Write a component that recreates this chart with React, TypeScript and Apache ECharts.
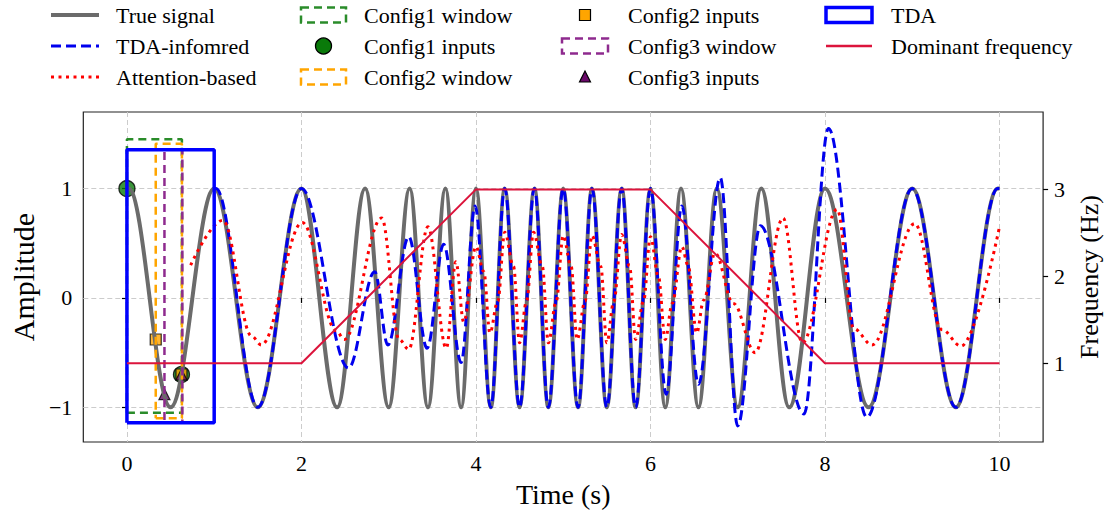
import React, { useEffect, useRef } from "react";
import * as echarts from "echarts";

// ---------- tick values ----------
const timeTicks = [0, 2, 4, 6, 8, 10];
const amplitudeTicks = [-1, 0, 1];
const frequencyTicks = [1, 2, 3];

// ---------- true signal (extrema) ----------
const trueSignalT = [0, 0.02, 0.5, 1, 1.5, 2, 2.41, 2.73, 3.0, 3.24, 3.45, 3.65, 3.83, 4.0, 4.17, 4.33, 4.5, 4.67, 4.83, 5.0, 5.17, 5.33, 5.5, 5.67, 5.83, 6.0, 6.17, 6.35, 6.55, 6.76, 7.0, 7.27, 7.59, 8.0, 8.5, 9.0, 9.5, 9.98, 10];
const trueSignalY = [1, 1, -1, 1, -1, 1, -1, 1, -1, 1, -1, 1, -1, 1, -1, 1, -1, 1, -1, 1, -1, 1, -1, 1, -1, 1, -1, 1, -1, 1, -1, 1, -1, 1, -1, 1, -1, 1, 1];

// ---------- TDA-informed prediction ----------
const tdaT = [1.0, 1.02, 1.5, 2.0, 2.54, 2.84, 2.99, 3.23, 3.44, 3.63, 3.83, 3.99, 4.17, 4.33, 4.5, 4.67, 4.83, 5.0, 5.17, 5.33, 5.5, 5.67, 5.83, 6.0, 6.18, 6.36, 6.55, 6.8, 7.0, 7.26, 7.76, 8.04, 8.48, 9.0, 9.5, 9.98, 10];
const tdaY = [1, 1, -1, 1, -0.64, 0.24, -0.43, 0.56, -0.46, 0.49, -0.59, 0.84, -1, 1, -1, 1, -1, 1, -1, 1, -1, 1, -1, 1, -0.88, 0.84, -0.79, 1.1, -1.17, 0.66, -1.06, 1.55, -1.09, 1, -1, 1, 1];

// ---------- Attention-based prediction ----------
const attT = [0.73, 1.1, 1.43, 1.54, 2.01, 2.4, 2.49, 2.92, 3.12, 3.23, 3.45, 3.66, 3.77, 3.86, 4.0, 4.09, 4.16, 4.25, 4.33, 4.43, 4.5, 4.58, 4.66, 4.76, 4.83, 4.92, 5.0, 5.09, 5.16, 5.25, 5.33, 5.43, 5.5, 5.58, 5.67, 5.76, 5.83, 5.92, 6.0, 6.09, 6.17, 6.25, 6.36, 6.43, 6.53, 6.61, 6.74, 6.95, 7.2, 7.52, 7.74, 8.14, 8.33, 8.54, 9.03, 9.34, 9.56, 10];
const attY = [0.3, 0.71, -0.35, -0.43, 0.69, -0.3, -0.38, 0.73, -0.38, -0.47, 0.65, -0.46, 0.33, -0.22, 0.47, 0.24, -0.32, -0.03, 0.6, 0.29, -0.41, -0.03, 0.6, 0.29, -0.41, -0.03, 0.57, 0.29, -0.38, -0.03, 0.57, 0.29, -0.41, -0.03, 0.58, 0.29, -0.38, -0.03, 0.56, 0.2, -0.38, -0.05, 0.47, 0.3, -0.32, -0.02, 0.41, -0.05, -0.5, 0.73, -0.41, 0.81, -0.28, -0.43, 0.68, -0.29, -0.44, 0.65];

// ---------- dominant frequency ----------
const freqT = [0, 2, 4, 6, 8, 10];
const freqHz = [1, 1, 3, 3, 1, 1];

// ---------- windows: [start time, end time, low amplitude, high amplitude] ----------
const config1Window = [0, 0.63, -1.05, 1.45];
const config2Window = [0.33, 0.63, -1.1, 1.41];
const config3Window = [0.43, 0.635, -1.14, 1.36];
const tdaWindow = [0, 1.0, -1.14, 1.355];

// ---------- window inputs ----------
const config1InputsT = [0, 0.625];
const config1InputsY = [1, -0.7];
const config2InputsT = [0.33, 0.625];
const config2InputsY = [-0.38, -0.7];
const config3InputsT = [0.43, 0.625];
const config3InputsY = [-0.88, -0.7];

const FONT = '"Liberation Serif", "Times New Roman", serif';
const GRAY = "#6b6b6b";
const BLUE = "#0000ee";
const RED = "#ff0000";
const GREEN = "#2a8c2a";
const ORANGE = "#ffa500";
const PURPLE = "#8e2a8e";
const CRIMSON = "#dc143c";

const pairs = (t: number[], y: number[]) => t.map((v, i) => [v, y[i]]);
const rectPath = (w: number[]) => {
  const [t0, t1, lo, hi] = w;
  return [[t0, lo], [t1, lo], [t1, hi], [t0, hi], [t0, lo]];
};
const minus = (v: number) => (v < 0 ? "\u2212" + Math.abs(v) : String(v));

const windowSeries = (name: string, w: number[], color: string, width: number, dash: any) => ({
  name,
  type: "line",
  data: rectPath(w),
  showSymbol: false,
  symbol: "none",
  silent: true,
  lineStyle: { color, width, type: dash },
});

// ---------- legend (graphic) ----------
const LF = `22px ${FONT}`;
const rows = [15, 46, 77];
const legendText = (text: string, x: number, y: number) => ({
  type: "text",
  x,
  y,
  style: { text, fill: "#000", font: LF, textAlign: "left", textVerticalAlign: "middle", align: "left", verticalAlign: "middle" },
});
const c1 = { x1: 51, x2: 99, tx: 116 };
const c2 = { x1: 301, x2: 346, tx: 364 };
const c3 = { x1: 562, x2: 608, tx: 628 };
const c4 = { x1: 826, x2: 872, tx: 891 };
const hRect = (c: any, y: number, stroke: string, lw: number, dash: any) => ({
  type: "rect",
  shape: { x: c.x1, y: y - 7.5, width: c.x2 - c.x1, height: 15 },
  style: { fill: "none", stroke, lineWidth: lw, lineDash: dash },
});

const legendElements: any[] = [
  { type: "line", shape: { x1: c1.x1, y1: rows[0], x2: c1.x2, y2: rows[0] }, style: { stroke: GRAY, lineWidth: 4 } },
  legendText("True signal", c1.tx, rows[0]),
  { type: "line", shape: { x1: c1.x1, y1: rows[1], x2: c1.x2, y2: rows[1] }, style: { stroke: BLUE, lineWidth: 3, lineDash: [10, 5] } },
  legendText("TDA-infomred", c1.tx, rows[1]),
  { type: "line", shape: { x1: c1.x1, y1: rows[2], x2: c1.x2, y2: rows[2] }, style: { stroke: RED, lineWidth: 3, lineDash: [3, 4.5] } },
  legendText("Attention-based", c1.tx, rows[2]),

  hRect(c2, rows[0], GREEN, 2.5, [8, 5]),
  legendText("Config1 window", c2.tx, rows[0]),
  { type: "circle", shape: { cx: (c2.x1 + c2.x2) / 2, cy: rows[1], r: 8 }, style: { fill: "#0a7a0a", stroke: "#000", lineWidth: 1.3 } },
  legendText("Config1 inputs", c2.tx, rows[1]),
  hRect(c2, rows[2], ORANGE, 2.5, [8, 5]),
  legendText("Config2 window", c2.tx, rows[2]),

  { type: "rect", shape: { x: (c3.x1 + c3.x2) / 2 - 5.5, y: rows[0] - 5.5, width: 11, height: 11 }, style: { fill: ORANGE, stroke: "#000", lineWidth: 1.2 } },
  legendText("Config2 inputs", c3.tx, rows[0]),
  hRect(c3, rows[1], PURPLE, 2.5, [8, 5]),
  legendText("Config3 window", c3.tx, rows[1]),
  {
    type: "polygon",
    shape: { points: [[(c3.x1 + c3.x2) / 2, rows[2] - 6], [(c3.x1 + c3.x2) / 2 - 5.5, rows[2] + 5], [(c3.x1 + c3.x2) / 2 + 5.5, rows[2] + 5]] },
    style: { fill: "#6a0a6a", stroke: "#000", lineWidth: 1.2 },
  },
  legendText("Config3 inputs", c3.tx, rows[2]),

  hRect(c4, rows[0], "#0000ff", 3.5, null),
  legendText("TDA", c4.tx, rows[0]),
  { type: "line", shape: { x1: c4.x1, y1: rows[1], x2: c4.x2, y2: rows[1] }, style: { stroke: CRIMSON, lineWidth: 2.5 } },
  legendText("Dominant frequency", c4.tx, rows[1]),
];

const axisLabelBase = { color: "#000", fontFamily: "Liberation Serif", fontSize: 22 };
const gridLine = { show: true, lineStyle: { color: "#cccccc", width: 1, type: [5, 3] } };
const tickStyle = { show: true, length: 5, lineStyle: { color: "#000", width: 1.2 } };

const option: any = {
  animation: false,
  backgroundColor: "#ffffff",
  textStyle: { fontFamily: "Liberation Serif" },
  grid: { left: 83, right: 62, top: 112, bottom: 73, show: true, borderColor: "#222", borderWidth: 1.2, backgroundColor: "transparent" },
  xAxis: {
    type: "value",
    min: -0.5,
    max: 10.5,
    axisLine: { show: false },
    axisTick: { ...tickStyle, customValues: timeTicks },
    axisLabel: { ...axisLabelBase, margin: 10, customValues: timeTicks, formatter: (v: number) => minus(v) },
    splitLine: gridLine,
    name: "Time (s)",
    nameLocation: "middle",
    nameGap: 38,
    nameTextStyle: { color: "#000", fontFamily: FONT, fontSize: 28 },
  },
  yAxis: [
    {
      type: "value",
      min: -1.317,
      max: 1.7,
      axisLine: { show: false },
      axisTick: { ...tickStyle, customValues: amplitudeTicks },
      axisLabel: { ...axisLabelBase, margin: 11, customValues: amplitudeTicks, formatter: (v: number) => minus(v) },
      splitLine: gridLine,
      name: "Amplitude",
      nameLocation: "middle",
      nameGap: 43,
      nameRotate: 90,
      nameTextStyle: { color: "#000", fontFamily: FONT, fontSize: 30 },
    },
    {
      type: "value",
      position: "right",
      min: 0.095,
      max: 3.89,
      axisLine: { show: false },
      axisTick: { ...tickStyle, customValues: frequencyTicks },
      axisLabel: { ...axisLabelBase, margin: 11, customValues: frequencyTicks, formatter: (v: number) => minus(v) },
      splitLine: { show: false },
      name: "Frequency (Hz)",
      nameLocation: "middle",
      nameGap: 30,
      nameRotate: 90,
      nameTextStyle: { color: "#000", fontFamily: FONT, fontSize: 26 },
    },
  ],
  graphic: { elements: legendElements },
  series: [
    {
      name: "True signal",
      type: "line",
      data: pairs(trueSignalT, trueSignalY),
      smooth: 0.36,
      smoothMonotone: "x",
      showSymbol: false,
      symbol: "none",
      lineStyle: { color: GRAY, width: 4 },
    },
    {
      name: "TDA-infomred",
      type: "line",
      data: pairs(tdaT, tdaY),
      smooth: 0.36,
      smoothMonotone: "x",
      showSymbol: false,
      symbol: "none",
      lineStyle: { color: BLUE, width: 3, type: [10, 5] },
    },
    {
      name: "Attention-based",
      type: "line",
      data: pairs(attT, attY),
      smooth: 0.36,
      smoothMonotone: "x",
      showSymbol: false,
      symbol: "none",
      lineStyle: { color: RED, width: 3, type: [3, 4.5] },
    },
    windowSeries("Config1 window", config1Window, GREEN, 2.5, [8, 5]),
    windowSeries("Config2 window", config2Window, ORANGE, 2.5, [8, 5]),
    windowSeries("Config3 window", config3Window, PURPLE, 2.5, [8, 5]),
    windowSeries("TDA", tdaWindow, "#0000ff", 3.5, "solid"),
    {
      name: "Dominant frequency",
      type: "line",
      yAxisIndex: 1,
      data: pairs(freqT, freqHz),
      showSymbol: false,
      symbol: "none",
      lineStyle: { color: CRIMSON, width: 2 },
    },
    {
      name: "Config1 inputs",
      type: "scatter",
      data: pairs(config1InputsT, config1InputsY),
      symbol: "circle",
      symbolSize: 16,
      itemStyle: { color: "#0a7a0a", borderColor: "#000", borderWidth: 1.3 },
    },
    {
      name: "Config2 inputs",
      type: "scatter",
      data: pairs(config2InputsT, config2InputsY),
      symbol: "rect",
      symbolSize: 11,
      itemStyle: { color: ORANGE, borderColor: "#000", borderWidth: 1.2 },
    },
    {
      name: "Config3 inputs",
      type: "scatter",
      data: pairs(config3InputsT, config3InputsY),
      symbol: "triangle",
      symbolSize: 11,
      itemStyle: { color: "#6a0a6a", borderColor: "#000", borderWidth: 1.2 },
    },
  ],
};

export default function App() {
  const ref = useRef<HTMLDivElement>(null);
  useEffect(() => {
    const chart = echarts.init(ref.current as HTMLDivElement, null, { renderer: "svg" });
    chart.setOption(option);
    return () => chart.dispose();
  }, []);
  return (
    <div
      ref={ref}
      style={{ position: "absolute", left: 0, top: 0, width: 1110, height: 515, background: "#fff" }}
    />
  );
}
